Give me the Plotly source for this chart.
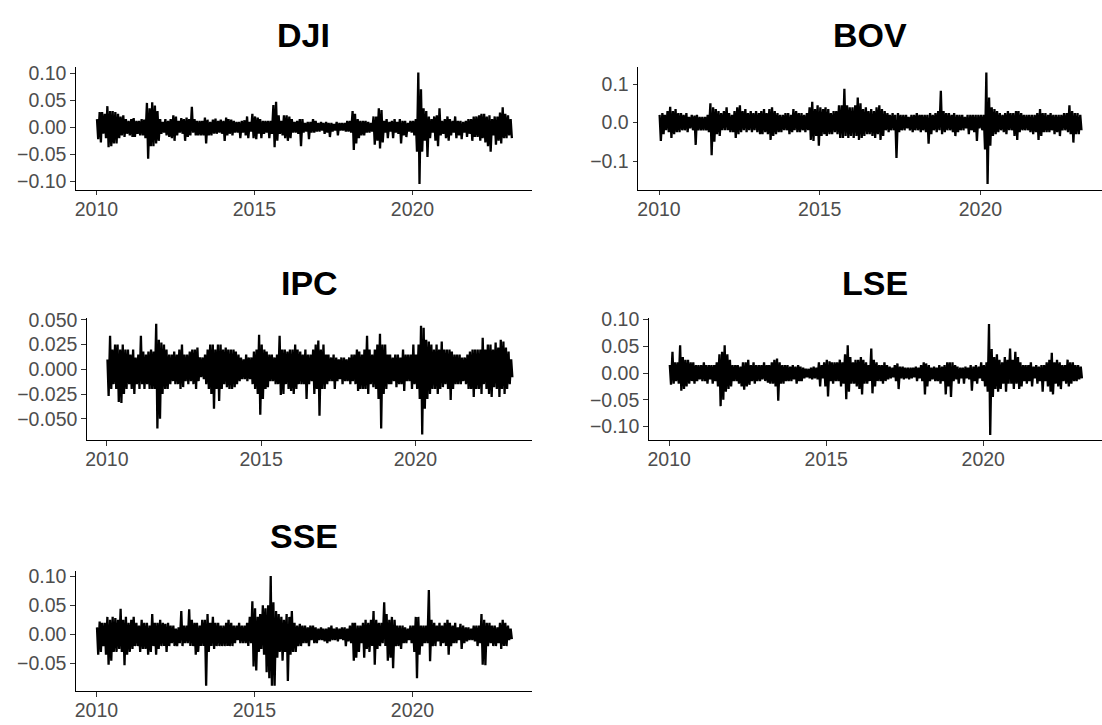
import plotly.graph_objects as go
import pandas as pd

# Monthly envelope (highest / lowest daily return), Jan 2010 .. Feb 2023
months = pd.date_range("2010-01-01", "2023-02-01", freq="MS")

DJI_hi = [0.015, 0.028, 0.028, 0.025, 0.039, 0.03, 0.03, 0.028, 0.025, 0.02, 0.022, 0.015,
          0.012, 0.015, 0.017, 0.012, 0.012, 0.015, 0.014, 0.045, 0.035, 0.046, 0.04, 0.03,
          0.015, 0.01, 0.015, 0.012, 0.015, 0.022, 0.02, 0.012, 0.017, 0.015, 0.018, 0.015,
          0.038, 0.015, 0.012, 0.012, 0.012, 0.018, 0.014, 0.01, 0.014, 0.016, 0.012, 0.014,
          0.012, 0.018, 0.015, 0.014, 0.012, 0.01, 0.01, 0.012, 0.013, 0.02, 0.01, 0.025,
          0.02, 0.018, 0.015, 0.012, 0.012, 0.012, 0.012, 0.041, 0.047, 0.022, 0.012, 0.022,
          0.022, 0.02, 0.015, 0.01, 0.012, 0.015, 0.015, 0.008, 0.01, 0.01, 0.015, 0.012,
          0.008, 0.01, 0.008, 0.01, 0.008, 0.008, 0.006, 0.01, 0.008, 0.008, 0.008, 0.012,
          0.012, 0.03, 0.025, 0.015, 0.012, 0.012, 0.012, 0.01, 0.008, 0.02, 0.02, 0.035,
          0.032, 0.012, 0.015, 0.01, 0.012, 0.015, 0.01, 0.015, 0.012, 0.012, 0.008, 0.012,
          0.012, 0.015, 0.101, 0.07, 0.035, 0.03, 0.02, 0.015, 0.02, 0.022, 0.035, 0.012,
          0.015, 0.02, 0.015, 0.012, 0.02, 0.012, 0.012, 0.01, 0.012, 0.015, 0.015, 0.02,
          0.02, 0.022, 0.025, 0.025, 0.02, 0.022, 0.015, 0.02, 0.02, 0.027, 0.037, 0.025,
          0.022, 0.015]
DJI_lo = [-0.022, -0.028, -0.012, -0.02, -0.037, -0.035, -0.03, -0.03, -0.02, -0.015, -0.018, -0.012,
          -0.015, -0.018, -0.018, -0.012, -0.015, -0.015, -0.02, -0.058, -0.035, -0.035, -0.03, -0.025,
          -0.012, -0.01, -0.015, -0.018, -0.02, -0.025, -0.015, -0.01, -0.012, -0.025, -0.018, -0.015,
          -0.01, -0.015, -0.015, -0.015, -0.015, -0.03, -0.015, -0.015, -0.012, -0.012, -0.01, -0.012,
          -0.025, -0.015, -0.012, -0.015, -0.01, -0.01, -0.02, -0.01, -0.015, -0.02, -0.008, -0.02,
          -0.022, -0.012, -0.02, -0.012, -0.01, -0.02, -0.012, -0.037, -0.025, -0.012, -0.015, -0.02,
          -0.025, -0.02, -0.01, -0.01, -0.012, -0.035, -0.01, -0.008, -0.022, -0.01, -0.01, -0.008,
          -0.008, -0.006, -0.012, -0.01, -0.018, -0.008, -0.006, -0.015, -0.006, -0.006, -0.008, -0.008,
          -0.01, -0.042, -0.03, -0.02, -0.015, -0.015, -0.01, -0.01, -0.008, -0.032, -0.025, -0.039,
          -0.028, -0.01, -0.02, -0.008, -0.02, -0.01, -0.012, -0.03, -0.015, -0.018, -0.008, -0.01,
          -0.015, -0.045, -0.105, -0.045, -0.025, -0.055, -0.02, -0.01, -0.025, -0.035, -0.015, -0.012,
          -0.02, -0.025, -0.015, -0.01, -0.02, -0.015, -0.022, -0.01, -0.018, -0.012, -0.025, -0.018,
          -0.018, -0.025, -0.02, -0.028, -0.035, -0.045, -0.015, -0.032, -0.025, -0.03, -0.02, -0.02,
          -0.015, -0.02]

BOV_hi = [0.02, 0.025, 0.02, 0.03, 0.041, 0.03, 0.035, 0.025, 0.025, 0.02, 0.025, 0.015,
          0.02, 0.018, 0.02, 0.015, 0.015, 0.015, 0.02, 0.05, 0.04, 0.035, 0.03, 0.025,
          0.03, 0.04, 0.025, 0.02, 0.03, 0.04, 0.045, 0.03, 0.035, 0.025, 0.03, 0.025,
          0.03, 0.025, 0.03, 0.035, 0.025, 0.035, 0.04, 0.03, 0.025, 0.02, 0.02, 0.025,
          0.025, 0.02, 0.035, 0.03, 0.025, 0.025, 0.02, 0.025, 0.04, 0.054, 0.035, 0.045,
          0.04, 0.035, 0.04, 0.035, 0.025, 0.03, 0.03, 0.045, 0.045, 0.088, 0.045, 0.04,
          0.04, 0.045, 0.065, 0.05, 0.035, 0.04, 0.03, 0.035, 0.03, 0.04, 0.045, 0.035,
          0.03, 0.025, 0.02, 0.025, 0.02, 0.025, 0.02, 0.02, 0.02, 0.015, 0.02, 0.02,
          0.025, 0.02, 0.02, 0.02, 0.02, 0.025, 0.02, 0.025, 0.03, 0.083, 0.03, 0.025,
          0.025, 0.02, 0.025, 0.02, 0.02, 0.02, 0.015, 0.02, 0.02, 0.02, 0.02, 0.02,
          0.02, 0.02, 0.13, 0.065, 0.04, 0.035, 0.03, 0.025, 0.02, 0.025, 0.03, 0.025,
          0.025, 0.03, 0.03, 0.025, 0.02, 0.02, 0.02, 0.02, 0.02, 0.025, 0.035, 0.025,
          0.025, 0.02, 0.025, 0.02, 0.02, 0.02, 0.02, 0.025, 0.025, 0.045, 0.03, 0.025,
          0.025, 0.02]
BOV_lo = [-0.048, -0.03, -0.02, -0.025, -0.04, -0.03, -0.025, -0.025, -0.02, -0.02, -0.025, -0.015,
          -0.02, -0.058, -0.02, -0.02, -0.02, -0.02, -0.025, -0.085, -0.05, -0.03, -0.035, -0.02,
          -0.02, -0.02, -0.025, -0.025, -0.04, -0.03, -0.025, -0.02, -0.025, -0.02, -0.025, -0.02,
          -0.025, -0.03, -0.03, -0.025, -0.03, -0.045, -0.035, -0.03, -0.025, -0.025, -0.02, -0.02,
          -0.03, -0.025, -0.02, -0.025, -0.025, -0.02, -0.025, -0.02, -0.045, -0.048, -0.035, -0.06,
          -0.035, -0.03, -0.035, -0.03, -0.03, -0.025, -0.03, -0.04, -0.04, -0.035, -0.04, -0.035,
          -0.04, -0.035, -0.045, -0.04, -0.035, -0.03, -0.03, -0.035, -0.04, -0.03, -0.045, -0.035,
          -0.02, -0.025, -0.02, -0.02, -0.092, -0.025, -0.02, -0.02, -0.015, -0.02, -0.025, -0.02,
          -0.02, -0.025, -0.02, -0.025, -0.055, -0.03, -0.02, -0.025, -0.02, -0.03, -0.025, -0.02,
          -0.02, -0.025, -0.035, -0.025, -0.02, -0.02, -0.015, -0.03, -0.02, -0.025, -0.048, -0.015,
          -0.02, -0.07, -0.16, -0.06, -0.035, -0.03, -0.025, -0.02, -0.025, -0.03, -0.02, -0.02,
          -0.035, -0.045, -0.025, -0.02, -0.02, -0.02, -0.025, -0.03, -0.025, -0.045, -0.035, -0.025,
          -0.025, -0.025, -0.02, -0.03, -0.025, -0.035, -0.02, -0.02, -0.025, -0.03, -0.052, -0.03,
          -0.03, -0.02]

IPC_hi = [0.01, 0.034, 0.02, 0.025, 0.025, 0.02, 0.025, 0.02, 0.02, 0.015, 0.02, 0.012,
          0.015, 0.034, 0.018, 0.015, 0.018, 0.02, 0.018, 0.046, 0.03, 0.027, 0.025, 0.02,
          0.015, 0.015, 0.018, 0.015, 0.02, 0.025, 0.015, 0.015, 0.018, 0.02, 0.02, 0.022,
          0.012, 0.012, 0.015, 0.02, 0.025, 0.025, 0.02, 0.025, 0.025, 0.02, 0.022, 0.02,
          0.02, 0.02, 0.018, 0.015, 0.012, 0.01, 0.015, 0.012, 0.012, 0.018, 0.02, 0.035,
          0.025, 0.02, 0.018, 0.015, 0.015, 0.012, 0.015, 0.034, 0.02, 0.02, 0.018, 0.02,
          0.02, 0.025, 0.02, 0.018, 0.015, 0.02, 0.015, 0.015, 0.02, 0.025, 0.029, 0.02,
          0.025, 0.015, 0.015, 0.012, 0.015, 0.012, 0.01, 0.012, 0.012, 0.01, 0.012, 0.015,
          0.015, 0.02, 0.018, 0.015, 0.02, 0.034, 0.02, 0.015, 0.02, 0.025, 0.036, 0.025,
          0.025, 0.015, 0.015, 0.012, 0.015, 0.015, 0.012, 0.02, 0.015, 0.015, 0.015, 0.025,
          0.015, 0.025, 0.044, 0.042, 0.03, 0.028, 0.025, 0.02, 0.025, 0.02, 0.028, 0.02,
          0.02, 0.02, 0.018, 0.015, 0.015, 0.015, 0.012, 0.012, 0.015, 0.018, 0.02, 0.02,
          0.02, 0.02, 0.032, 0.02, 0.025, 0.025, 0.02, 0.027, 0.022, 0.03, 0.028, 0.022,
          0.018, 0.01]
IPC_lo = [-0.027, -0.02, -0.015, -0.02, -0.033, -0.034, -0.025, -0.02, -0.015, -0.02, -0.025, -0.015,
          -0.02, -0.015, -0.02, -0.015, -0.02, -0.02, -0.02, -0.06, -0.05, -0.025, -0.02, -0.02,
          -0.015, -0.012, -0.015, -0.015, -0.02, -0.018, -0.012, -0.015, -0.012, -0.015, -0.02, -0.012,
          -0.008, -0.01, -0.015, -0.02, -0.025, -0.04, -0.02, -0.032, -0.02, -0.015, -0.018, -0.02,
          -0.02, -0.018, -0.015, -0.012, -0.01, -0.01, -0.012, -0.01, -0.015, -0.02, -0.025, -0.046,
          -0.03, -0.02, -0.018, -0.012, -0.012, -0.015, -0.015, -0.026, -0.025, -0.015, -0.02, -0.022,
          -0.025, -0.02, -0.015, -0.015, -0.015, -0.03, -0.015, -0.012, -0.025, -0.02, -0.047, -0.02,
          -0.02, -0.015, -0.012, -0.012, -0.02, -0.012, -0.01, -0.015, -0.012, -0.012, -0.015, -0.012,
          -0.015, -0.022, -0.02, -0.02, -0.02, -0.025, -0.015, -0.018, -0.02, -0.03, -0.06, -0.025,
          -0.02, -0.015, -0.015, -0.012, -0.018, -0.015, -0.015, -0.022, -0.012, -0.012, -0.02, -0.015,
          -0.02, -0.03, -0.066, -0.04, -0.03, -0.025, -0.02, -0.02, -0.025, -0.02, -0.018, -0.015,
          -0.02, -0.031, -0.02, -0.015, -0.015, -0.015, -0.012, -0.015, -0.02, -0.02, -0.028, -0.02,
          -0.02, -0.025, -0.015, -0.02, -0.025, -0.028, -0.018, -0.02, -0.028, -0.02, -0.025, -0.02,
          -0.015, -0.008]

LSE_hi = [0.015, 0.04, 0.02, 0.02, 0.052, 0.03, 0.025, 0.025, 0.02, 0.02, 0.015, 0.015,
          0.015, 0.02, 0.015, 0.015, 0.015, 0.015, 0.02, 0.035, 0.04, 0.052, 0.035, 0.025,
          0.015, 0.015, 0.015, 0.012, 0.02, 0.02, 0.025, 0.015, 0.02, 0.015, 0.015, 0.015,
          0.02, 0.015, 0.015, 0.02, 0.025, 0.027, 0.02, 0.015, 0.015, 0.015, 0.012, 0.015,
          0.012, 0.015, 0.012, 0.01, 0.008, 0.008, 0.01, 0.012, 0.01, 0.02, 0.015, 0.02,
          0.025, 0.022, 0.02, 0.02, 0.02, 0.025, 0.02, 0.035, 0.052, 0.03, 0.02, 0.025,
          0.025, 0.03, 0.025, 0.02, 0.015, 0.046, 0.025, 0.02, 0.015, 0.015, 0.02, 0.015,
          0.012, 0.01, 0.015, 0.018, 0.012, 0.012, 0.01, 0.01, 0.01, 0.01, 0.012, 0.01,
          0.015, 0.02, 0.018, 0.015, 0.01, 0.012, 0.01, 0.015, 0.012, 0.015, 0.02, 0.02,
          0.02, 0.015, 0.012, 0.01, 0.01, 0.012, 0.01, 0.015, 0.012, 0.015, 0.012, 0.02,
          0.015, 0.02, 0.092, 0.045, 0.03, 0.035, 0.025, 0.02, 0.03, 0.025, 0.046, 0.025,
          0.04, 0.03, 0.02, 0.015, 0.015, 0.015, 0.02, 0.012, 0.015, 0.012, 0.015, 0.015,
          0.02, 0.025, 0.038, 0.02, 0.025, 0.02, 0.015, 0.015, 0.025, 0.02, 0.02, 0.015,
          0.015, 0.012]
LSE_lo = [-0.022, -0.02, -0.015, -0.02, -0.033, -0.03, -0.025, -0.02, -0.015, -0.02, -0.015, -0.012,
          -0.015, -0.015, -0.02, -0.012, -0.02, -0.015, -0.025, -0.062, -0.05, -0.035, -0.03, -0.025,
          -0.015, -0.015, -0.02, -0.025, -0.031, -0.025, -0.022, -0.015, -0.02, -0.015, -0.015, -0.012,
          -0.015, -0.018, -0.02, -0.02, -0.025, -0.052, -0.02, -0.02, -0.015, -0.015, -0.015, -0.012,
          -0.02, -0.015, -0.015, -0.01, -0.008, -0.01, -0.012, -0.01, -0.012, -0.025, -0.01, -0.025,
          -0.044, -0.015, -0.02, -0.015, -0.015, -0.025, -0.02, -0.049, -0.035, -0.02, -0.02, -0.025,
          -0.03, -0.04, -0.02, -0.02, -0.015, -0.038, -0.025, -0.015, -0.015, -0.02, -0.015, -0.012,
          -0.01, -0.008, -0.015, -0.03, -0.01, -0.012, -0.01, -0.012, -0.01, -0.008, -0.015, -0.01,
          -0.015, -0.04, -0.025, -0.015, -0.012, -0.015, -0.015, -0.02, -0.015, -0.04, -0.025, -0.045,
          -0.015, -0.012, -0.02, -0.01, -0.02, -0.01, -0.012, -0.033, -0.015, -0.02, -0.01, -0.015,
          -0.025, -0.035, -0.116, -0.045, -0.03, -0.035, -0.03, -0.02, -0.035, -0.02, -0.02, -0.03,
          -0.02, -0.03, -0.025, -0.015, -0.02, -0.015, -0.025, -0.01, -0.02, -0.015, -0.035, -0.015,
          -0.025, -0.035, -0.04, -0.02, -0.025, -0.03, -0.015, -0.02, -0.025, -0.02, -0.015, -0.015,
          -0.012, -0.01]

SSE_hi = [0.012, 0.022, 0.02, 0.02, 0.03, 0.025, 0.03, 0.028, 0.025, 0.044, 0.025, 0.03,
          0.02, 0.025, 0.03, 0.02, 0.015, 0.025, 0.02, 0.02, 0.015, 0.035, 0.02, 0.02,
          0.025, 0.02, 0.018, 0.02, 0.015, 0.015, 0.01, 0.012, 0.04, 0.015, 0.015, 0.043,
          0.025, 0.02, 0.02, 0.015, 0.025, 0.025, 0.035, 0.02, 0.03, 0.02, 0.02, 0.015,
          0.015, 0.02, 0.025, 0.02, 0.015, 0.015, 0.02, 0.015, 0.015, 0.02, 0.03, 0.057,
          0.045, 0.03, 0.035, 0.05, 0.045, 0.05, 0.1, 0.055, 0.04, 0.035, 0.03, 0.025,
          0.035, 0.03, 0.04, 0.02, 0.015, 0.018, 0.015, 0.015, 0.012, 0.015, 0.015, 0.012,
          0.01, 0.012, 0.01, 0.01, 0.012, 0.015, 0.01, 0.012, 0.01, 0.012, 0.012, 0.01,
          0.015, 0.02, 0.02, 0.015, 0.015, 0.02, 0.025, 0.02, 0.025, 0.04, 0.025, 0.02,
          0.02, 0.055, 0.035, 0.025, 0.03, 0.025, 0.015, 0.015, 0.015, 0.012, 0.01, 0.015,
          0.015, 0.03, 0.03, 0.015, 0.015, 0.015, 0.076, 0.025, 0.02, 0.015, 0.02, 0.015,
          0.02, 0.025, 0.02, 0.015, 0.02, 0.012, 0.018, 0.015, 0.012, 0.012, 0.01, 0.015,
          0.015, 0.015, 0.035, 0.025, 0.02, 0.02, 0.015, 0.015, 0.012, 0.02, 0.025, 0.02,
          0.015, 0.01]
SSE_lo = [-0.035, -0.03, -0.02, -0.035, -0.052, -0.045, -0.03, -0.03, -0.025, -0.03, -0.053, -0.035,
          -0.03, -0.025, -0.02, -0.02, -0.03, -0.025, -0.025, -0.035, -0.03, -0.02, -0.035, -0.025,
          -0.02, -0.02, -0.03, -0.02, -0.015, -0.02, -0.02, -0.015, -0.02, -0.015, -0.015, -0.02,
          -0.02, -0.035, -0.03, -0.02, -0.02, -0.088, -0.03, -0.02, -0.025, -0.02, -0.02, -0.02,
          -0.02, -0.02, -0.02, -0.02, -0.015, -0.01, -0.015, -0.015, -0.015, -0.02, -0.015, -0.055,
          -0.062, -0.03, -0.025, -0.035, -0.065, -0.075, -0.088, -0.088, -0.04, -0.03, -0.045, -0.03,
          -0.08, -0.035, -0.03, -0.03, -0.02, -0.02, -0.015, -0.015, -0.02, -0.01, -0.015, -0.015,
          -0.01, -0.01, -0.012, -0.015, -0.012, -0.01, -0.01, -0.012, -0.008, -0.01, -0.02, -0.012,
          -0.015, -0.045, -0.04, -0.03, -0.015, -0.04, -0.025, -0.03, -0.02, -0.052, -0.025, -0.02,
          -0.015, -0.02, -0.045, -0.04, -0.058, -0.02, -0.02, -0.025, -0.015, -0.015, -0.01, -0.015,
          -0.03, -0.075, -0.035, -0.02, -0.015, -0.015, -0.046, -0.02, -0.02, -0.012, -0.02, -0.015,
          -0.02, -0.035, -0.02, -0.015, -0.015, -0.01, -0.025, -0.015, -0.012, -0.01, -0.01, -0.012,
          -0.02, -0.015, -0.052, -0.053, -0.02, -0.015, -0.02, -0.02, -0.015, -0.025, -0.02, -0.02,
          -0.01, -0.008]

series_names = ["DJI", "BOV", "IPC", "LSE", "SSE"]
series_hi = [DJI_hi, BOV_hi, IPC_hi, LSE_hi, SSE_hi]
series_lo = [DJI_lo, BOV_lo, IPC_lo, LSE_lo, SSE_lo]

y_tickvals = [[-0.10, -0.05, 0.0, 0.05, 0.10], [-0.1, 0.0, 0.1],
              [-0.05, -0.025, 0.0, 0.025, 0.05], [-0.10, -0.05, 0.0, 0.05, 0.10],
              [-0.05, 0.0, 0.05, 0.10]]
y_ticktext = [["\u22120.10", "\u22120.05", "0.00", "0.05", "0.10"], ["\u22120.1", "0.0", "0.1"],
              ["\u22120.050", "\u22120.025", "0.000", "0.025", "0.050"],
              ["\u22120.10", "\u22120.05", "0.00", "0.05", "0.10"],
              ["\u22120.05", "0.00", "0.05", "0.10"]]
y_ranges = [[-0.1153, 0.1113], [-0.1745, 0.1445], [-0.0716, 0.0516], [-0.1255, 0.1025], [-0.0975, 0.1095]]
x_tickvals = ["2010-01-01", "2015-01-01", "2020-01-01"]
x_ticktext = ["2010", "2015", "2020"]

for h, l in zip(series_hi, series_lo):
    assert len(h) == len(months) and len(l) == len(months), (len(h), len(l))

W, H = 1102, 725
# panel boxes in pixels: left, right, top, bottom
boxes = [(74, 531, 58, 182.7), (637.3, 1102, 58, 182.7),
         (85, 531, 313.5, 437.3), (648, 1102, 313.5, 437.3),
         (74, 531, 570, 692.7)]
title_y = [25, 25, 278, 278, 535]

fig = go.Figure()
tickfont = dict(family="Liberation Sans, Arial, sans-serif", size=19.5, color="#4D4D4D")
layout = dict(width=W, height=H, margin=dict(l=0, r=0, t=0, b=0),
              paper_bgcolor="white", plot_bgcolor="white", showlegend=False,
              annotations=[])

for i, name in enumerate(series_names):
    xs, ys = [], []
    for m, h, l in zip(months, series_hi[i], series_lo[i]):
        xs += [m + pd.Timedelta(days=7), m + pd.Timedelta(days=21)]
        ys += [h, l]
    sfx = "" if i == 0 else str(i + 1)
    fig.add_trace(go.Scatter(x=xs, y=ys, mode="lines", line=dict(color="black", width=2.3),
                             xaxis="x" + sfx, yaxis="y" + sfx, hoverinfo="skip"))
    left, right, top, bottom = boxes[i]
    layout["xaxis" + sfx] = dict(
        domain=[left / W, right / W], anchor="y" + sfx, type="date",
        range=["2009-05-09", "2023-10-13"], tickvals=x_tickvals, ticktext=x_ticktext,
        showline=True, linecolor="black", linewidth=1.2, ticks="outside", ticklen=4.5,
        tickwidth=1.1, tickcolor="#333333", showgrid=False, zeroline=False, tickfont=tickfont,
        ticklabelstandoff=-3)
    layout["yaxis" + sfx] = dict(
        domain=[1 - bottom / H, 1 - top / H], anchor="x" + sfx, range=y_ranges[i],
        tickvals=y_tickvals[i], ticktext=y_ticktext[i],
        showline=True, linecolor="black", linewidth=1.2, ticks="outside", ticklen=4.5,
        tickwidth=1.1, tickcolor="#333333", showgrid=False, zeroline=False, tickfont=tickfont)
    layout["annotations"].append(dict(
        text="<b>" + name + "</b>", xref="paper", yref="paper",
        x=(left + right) / 2 / W, y=1 - title_y[i] / H, xanchor="center", yanchor="middle",
        showarrow=False, font=dict(family="Liberation Sans, Arial, sans-serif", size=34, color="black")))

fig.update_layout(**layout)
fig.write_html("out.html")
